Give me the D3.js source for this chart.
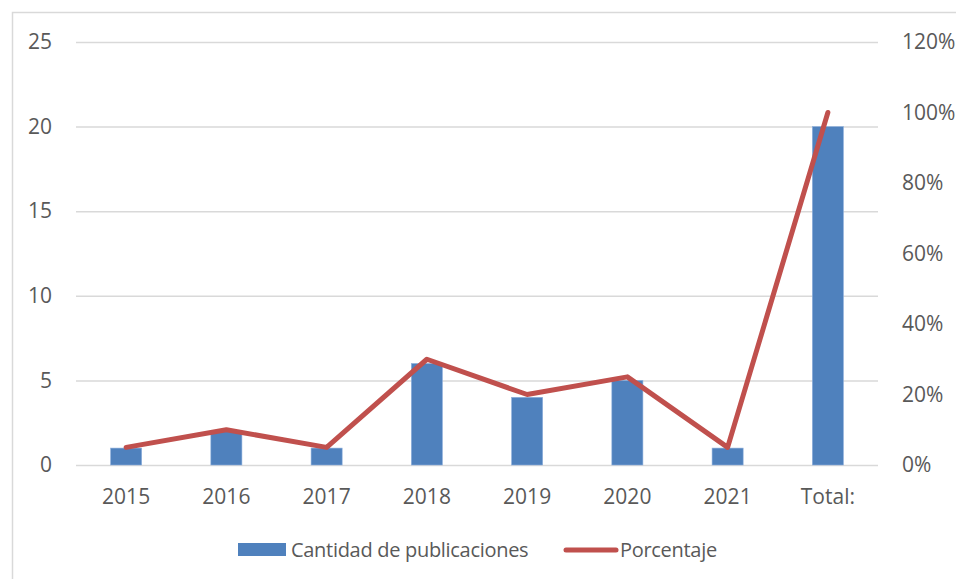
<!DOCTYPE html>
<html>
<head>
<meta charset="utf-8">
<script src="https://cdn.jsdelivr.net/npm/d3@7"></script>
<style>
  body { margin: 0; background: #fff; }
  svg text { font-family: "Open Sans", sans-serif; fill: #595959; }
</style>
</head>
<body>
<svg id="chart" width="956" height="579"></svg>
<script>
// data
var categories = ["2015", "2016", "2017", "2018", "2019", "2020", "2021", "Total:"];
var cantidad = [1, 2, 1, 6, 4, 5, 1, 20];
var porcentaje = [0.05, 0.10, 0.05, 0.30, 0.20, 0.25, 0.05, 1.00];
var leftTicks = [0, 5, 10, 15, 20, 25];
var rightTicks = [0, 0.2, 0.4, 0.6, 0.8, 1.0, 1.2];

var margin = {top: 42, left: 76, right: 78, bottom: 114},
    width = 956, height = 579;

var svg = d3.select('#chart');

// outer frame (cut off on right and bottom like the picture)
svg.append('rect')
    .attr('x', 12.5).attr('y', 12.5)
    .attr('width', 1000).attr('height', 1000)
    .attr('fill', 'none')
    .attr('stroke', '#d9d9d9')
    .attr('stroke-width', 1.5);

var x = d3.scaleBand()
    .domain(categories)
    .range([margin.left, width - margin.right])
    .paddingInner(0.69).paddingOuter(0.345);

var y = d3.scaleLinear().domain([0, 25]).range([height - margin.bottom, margin.top]);
var y2 = d3.scaleLinear().domain([0, 1.2]).range(y.range());

// gridlines via left axis
var gGrid = svg.append('g')
    .attr('transform', 'translate(' + margin.left + ',0)')
    .call(d3.axisLeft(y).tickValues(leftTicks)
      .tickSize(-(width - margin.right - margin.left))
      .tickFormat(''));
gGrid.select('.domain').remove();
gGrid.selectAll('line').attr('stroke', '#d9d9d9').attr('stroke-width', 1.5);

// left labels
var gLeft = svg.append('g')
    .attr('transform', 'translate(52,0)')
    .call(d3.axisLeft(y).tickValues(leftTicks).tickSize(0).tickPadding(0));
gLeft.select('.domain').remove();
gLeft.selectAll('text').attr('font-size', 21).attr('fill', '#595959');

// right labels
var gRight = svg.append('g')
    .attr('transform', 'translate(902,0)')
    .call(d3.axisRight(y2).tickValues(rightTicks).tickSize(0).tickPadding(0)
      .tickFormat(d3.format('.0%')));
gRight.select('.domain').remove();
gRight.selectAll('text').attr('font-size', 21).attr('fill', '#595959');

// category labels
var gX = svg.append('g')
    .attr('transform', 'translate(0,' + (y(0)) + ')')
    .call(d3.axisBottom(x).tickSize(0).tickPadding(24));
gX.select('.domain').remove();
gX.selectAll('text').attr('font-size', 21).attr('fill', '#595959');

// bars
svg.selectAll('.bar')
  .data(cantidad)
  .enter().append('rect')
    .attr('class', 'bar')
    .attr('x', function(d, i) { return x(categories[i]); })
    .attr('width', x.bandwidth())
    .attr('y', function(d) { return y(d); })
    .attr('height', function(d) { return y(0) - y(d); })
    .attr('fill', '#4f81bd')
    .attr('stroke', '#8eb0dc')
    .attr('stroke-width', 0.6);

// line
var line = d3.line()
    .x(function(d, i) { return x(categories[i]) + x.bandwidth() / 2; })
    .y(function(d) { return y2(d); });

svg.append('path')
    .datum(porcentaje)
    .attr('d', line)
    .attr('fill', 'none')
    .attr('stroke', '#c0504d')
    .attr('stroke-width', 5)
    .attr('stroke-linejoin', 'round')
    .attr('stroke-linecap', 'round');

// legend
var legend = svg.append('g');
legend.append('rect')
    .attr('x', 238).attr('y', 543).attr('width', 48).attr('height', 13)
    .attr('fill', '#4f81bd');
legend.append('text')
    .attr('x', 291).attr('y', 550).attr('dy', '0.35em')
    .attr('font-size', 20)
    .attr('letter-spacing', -0.3)
    .text('Cantidad de publicaciones');
legend.append('line')
    .attr('x1', 566).attr('x2', 616).attr('y1', 550).attr('y2', 550)
    .attr('stroke', '#c0504d').attr('stroke-width', 5)
    .attr('stroke-linecap', 'round');
legend.append('text')
    .attr('x', 620).attr('y', 550).attr('dy', '0.35em')
    .attr('font-size', 20)
    .attr('letter-spacing', -0.3)
    .text('Porcentaje');
</script>
</body>
</html>
